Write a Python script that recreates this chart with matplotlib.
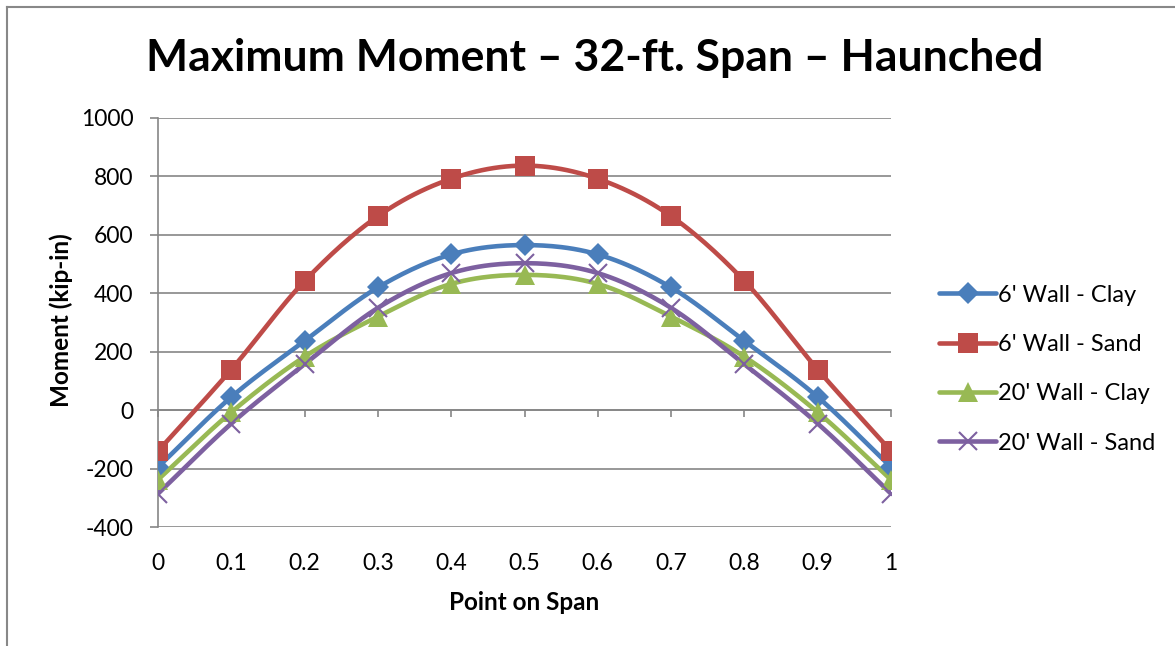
import numpy as np
import matplotlib.pyplot as plt
from matplotlib.lines import Line2D

# points along the span and the moments for each wall / soil case
span_pts = [0, 0.1, 0.2, 0.3, 0.4, 0.5, 0.6, 0.7, 0.8, 0.9, 1.0]
wall6_clay = [-195, 45, 237, 420, 533, 565, 533, 420, 237, 45, -195]
wall6_sand = [-140, 139, 442, 664, 792, 837, 792, 664, 442, 139, -140]
wall20_clay = [-238, -7, 183, 320, 432, 463, 432, 320, 183, -7, -238]
wall20_sand = [-286, -46, 157, 350, 469, 503, 469, 350, 157, -46, -286]
labels = ["6' Wall - Clay", "6' Wall - Sand", "20' Wall - Clay", "20' Wall - Sand"]
x_ticks = [0, 0.1, 0.2, 0.3, 0.4, 0.5, 0.6, 0.7, 0.8, 0.9, 1]
x_ticklabels = ['0', '0.1', '0.2', '0.3', '0.4', '0.5', '0.6', '0.7', '0.8', '0.9', '1']
y_ticks = [-400, -200, 0, 200, 400, 600, 800, 1000]


# catmull-rom curve through the points, like the smoothed line option in excel
def smooth(xs, ys, steps=24):
    xs = np.asarray(xs, float)
    ys = np.asarray(ys, float)
    px = np.concatenate([[2 * xs[0] - xs[1]], xs, [2 * xs[-1] - xs[-2]]])
    py = np.concatenate([[2 * ys[0] - ys[1]], ys, [2 * ys[-1] - ys[-2]]])
    out_x, out_y = [], []
    t = np.linspace(0, 1, steps, endpoint=False)
    for i in range(1, len(px) - 2):
        for p, out in ((px, out_x), (py, out_y)):
            p0, p1, p2, p3 = p[i - 1], p[i], p[i + 1], p[i + 2]
            out.extend(0.5 * (2 * p1 + (-p0 + p2) * t
                              + (2 * p0 - 5 * p1 + 4 * p2 - p3) * t ** 2
                              + (-p0 + 3 * p1 - 3 * p2 + p3) * t ** 3))
    out_x.append(xs[-1])
    out_y.append(ys[-1])
    return out_x, out_y


plt.rcParams['font.family'] = ['Lato', 'DejaVu Sans']
plt.rcParams['axes.unicode_minus'] = False

fig = plt.figure(figsize=(11.75, 6.46), dpi=100)
ax = fig.add_axes([158 / 1175, 1 - 527 / 646, 733 / 1175, 409 / 646])

grid_col = '#868686'
styles = [
    dict(color='#4A7EBB', marker='D', ms=11, mew=0),
    dict(color='#BE4B48', marker='s', ms=15, mew=0),
    dict(color='#98B954', marker='^', ms=14, mew=0),
    dict(color='#7D60A0', marker='x', ms=13, mew=1.5),
]
handles = []
for ys, st, lab in zip([wall6_clay, wall6_sand, wall20_clay, wall20_sand], styles, labels):
    sx, sy = smooth(span_pts, ys)
    ax.plot(sx, sy, color=st['color'], lw=3.3, solid_capstyle='round', zorder=3)
    ax.plot(span_pts, ys, ls='none', marker=st['marker'], ms=st['ms'],
            color=st['color'], mew=st['mew'], zorder=4)
    handles.append(Line2D([], [], color=st['color'], lw=3.3, marker=st['marker'],
                          ms=st['ms'], mew=st['mew'], solid_capstyle='round'))

ax.set_xlim(0, 1)
ax.set_ylim(-400, 1000)
ax.set_yticks(y_ticks)
ax.set_xticks(x_ticks)
ax.yaxis.grid(True, color=grid_col, lw=1.2)
ax.set_axisbelow(True)

for side in ['top', 'right']:
    ax.spines[side].set_visible(False)
ax.spines['left'].set_color(grid_col)
ax.spines['left'].set_linewidth(1.2)
# horizontal axis sits on the zero line, labels stay at the bottom
ax.spines['bottom'].set_position(('data', 0))
ax.spines['bottom'].set_color(grid_col)
ax.spines['bottom'].set_linewidth(1.2)
ax.tick_params(axis='x', length=5, width=1.2, color=grid_col, labelbottom=False)
ax.tick_params(axis='y', length=5.5, width=1.2, color=grid_col, labelsize=16.5, pad=12)

sec = ax.secondary_xaxis('bottom')
sec.set_xticks(x_ticks)
sec.set_xticklabels(x_ticklabels)
sec.tick_params(length=0, labelsize=16.5, pad=19)
sec.spines['bottom'].set_visible(False)

ax.set_xlabel('Point on Span', fontsize=17.5, fontweight='bold', va='center')
ax.xaxis.set_label_coords(0.5, (527 - 603) / 409)
ax.set_ylabel('Moment (kip-in)', fontsize=17.5, fontweight='bold')
ax.yaxis.set_label_coords((73 - 158) / 733, (527 - 320) / 409)

fig.text(595 / 1175, 1 - 58 / 646, 'Maximum Moment \u2013 32-ft. Span \u2013 Haunched',
         ha='center', va='center', fontsize=32, fontweight='bold')

fig.legend(handles, labels, loc='center left', bbox_to_anchor=(930 / 1175, 1 - 369 / 646),
           frameon=False, fontsize=17, handlelength=2.4, handletextpad=0.1,
           labelspacing=1.2, borderaxespad=0)

# outer chart border (left and top edges only are in frame)
fig.add_artist(Line2D([6.5 / 1175, 6.5 / 1175], [0, 1 - 6.5 / 646],
                      transform=fig.transFigure, color='#888888', lw=1.5))
fig.add_artist(Line2D([6.5 / 1175, 1], [1 - 6.5 / 646, 1 - 6.5 / 646],
                      transform=fig.transFigure, color='#888888', lw=1.5))

fig.savefig('out.png', dpi=100)
